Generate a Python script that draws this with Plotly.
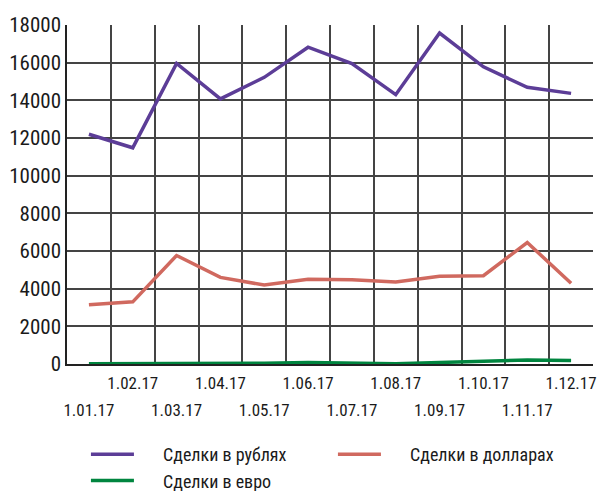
import plotly.graph_objects as go

dates = ["1.01.17", "1.02.17", "1.03.17", "1.04.17", "1.05.17", "1.06.17",
         "1.07.17", "1.08.17", "1.09.17", "1.10.17", "1.11.17", "1.12.17"]
rub = [12200, 11480, 15960, 14080, 15220, 16820, 15950, 14300, 17570, 15780, 14690, 14370]
usd = [3140, 3300, 5760, 4600, 4190, 4500, 4480, 4350, 4660, 4690, 6450, 4290]
eur = [10, 10, 10, 20, 40, 80, 60, 10, 80, 130, 210, 190]

names = ["Сделки в рублях", "Сделки в долларах", "Сделки в евро"]
colors = ["#5c3d97", "#d0695f", "#00853f"]
xaxes = ["x", "x", "x2"]

FONT = "Roboto Condensed, DejaVu Sans Condensed, sans-serif"
PAD = "\u00a0" * 5 + "\u2009"

x = list(range(len(dates)))
x_even = x[0::2]
x_odd = x[1::2]

fig = go.Figure()
for name, vals, col, xa in zip(names, [rub, usd, eur], colors, xaxes):
    fig.add_trace(go.Scatter(x=x, y=vals, name=PAD + name, mode="lines", xaxis=xa,
                             line=dict(color=col, width=3.5)))

fig.update_layout(
    width=598, height=491,
    margin=dict(l=67, r=5, t=25, b=127),
    paper_bgcolor="white", plot_bgcolor="white",
    font=dict(family=FONT, size=20, color="#1a1a1a"),
    showlegend=True,
    legend=dict(orientation="h", xref="paper", x=0.036, xanchor="left",
                yref="container", y=0.112, yanchor="top",
                entrywidth=189, entrywidthmode="pixels",
                font=dict(size=18), itemwidth=43, tracegroupgap=0),
    xaxis=dict(
        range=[-0.5, len(dates) - 0.5], automargin=False,
        tickmode="array", tickvals=x_odd, ticktext=[dates[i] for i in x_odd], tickangle=0,
        showgrid=False, zeroline=False,
        showline=True, linecolor="#222", linewidth=1.5,
        ticks="", tickfont=dict(size=17), ticklabelstandoff=3,
        minor=dict(tick0=0.5, dtick=1, showgrid=True, gridcolor="#444", gridwidth=1.5),
    ),
    xaxis2=dict(
        overlaying="x", anchor="y", side="bottom",
        range=[-0.5, len(dates) - 0.5], automargin=False,
        tickmode="array", tickvals=x_even, ticktext=[dates[i] for i in x_even], tickangle=0,
        showgrid=False, zeroline=False, showline=False,
        ticks="", tickfont=dict(size=17), ticklabelstandoff=34,
    ),
    yaxis=dict(
        range=[0, 18000], dtick=2000, tickformat="d", automargin=False,
        showgrid=True, gridcolor="#444", gridwidth=1.5,
        zeroline=False, showline=True, linecolor="#222", linewidth=1.5,
        ticks="", tickfont=dict(size=21),
    ),
)
fig.write_html("out.html", config={"displayModeBar": False},
               post_script="document.body.style.margin='0px';")
